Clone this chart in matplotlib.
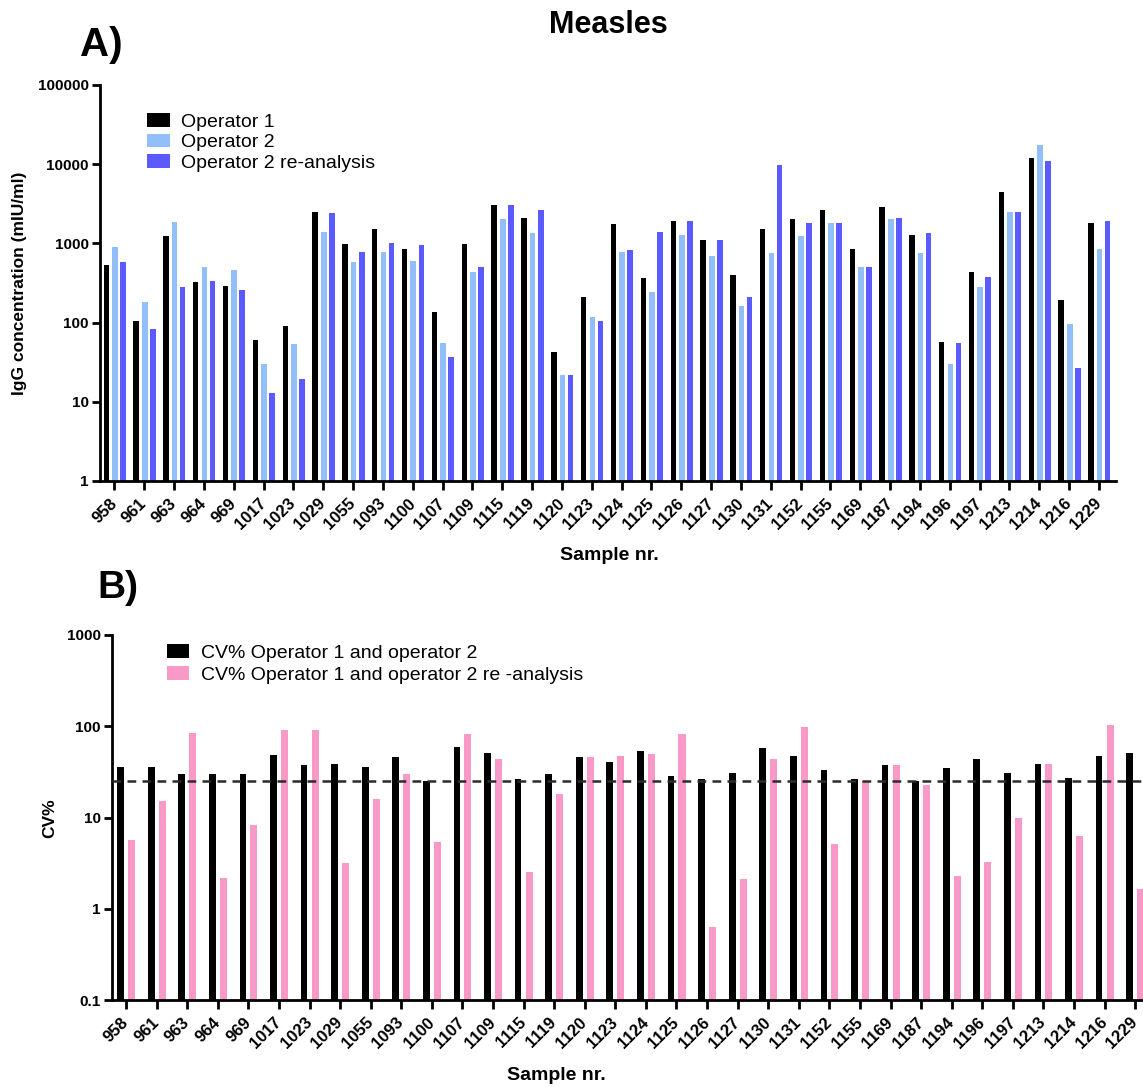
import matplotlib
matplotlib.use("Agg")
import matplotlib.pyplot as plt
import numpy as np

plt.rcParams['font.family'] = ['Liberation Sans', 'DejaVu Sans']

samples = ["958", "961", "963", "964", "969", "1017", "1023", "1029", "1055", "1093",
           "1100", "1107", "1109", "1115", "1119", "1120", "1123", "1124", "1125", "1126",
           "1127", "1130", "1131", "1152", "1155", "1169", "1187", "1194", "1196", "1197",
           "1213", "1214", "1216", "1229"]

# IgG concentration (mIU/ml)
operator1 = [530, 105, 1240, 323, 292, 61, 91, 2510, 990, 1530,
             860, 137, 980, 3030, 2110, 42, 212, 1760, 366, 1920,
             1110, 403, 1530, 2010, 2640, 860, 2880, 1290, 57, 440,
             4500, 12100, 195, 1830]
operator2 = [900, 180, 1850, 500, 460, 30, 54, 1410, 580, 785,
             600, 55, 440, 2030, 1340, 22, 119, 785, 245, 1290,
             690, 164, 750, 1240, 1830, 500, 2010, 750, 30, 279,
             2510, 17300, 95, 860]
operator2_rerun = [580, 84, 281, 335, 258, 12.8, 19.2, 2420, 785, 1020,
                   950, 37, 500, 3030, 2640, 22, 105, 820, 1410, 1920,
                   1110, 212, 9700, 1830, 1830, 500, 2110, 1340, 55, 380,
                   2510, 11100, 27, 1920]

# CV% between operators
cv_op1_op2 = [36, 36, 29.7, 29.7, 29.7, 49, 37.3, 38.9, 36, 45.6,
              25.3, 59.7, 50.9, 26.2, 29.7, 45.6, 40.6, 53.1, 28.5, 26.2,
              30.7, 57.3, 47.2, 33.2, 26.2, 37.3, 25.3, 34.6, 43.7, 30.7,
              38.9, 27.3, 47.2, 50.9]
cv_op1_op2_rerun = [5.6, 15.3, 84, 2.2, 8.2, 92, 92, 3.2, 16, 29.7,
                    5.35, 81.5, 43.7, 2.55, 17.9, 45.6, 47.2, 49.2, 81.5, 0.63,
                    2.1, 43.7, 99, 5.1, 25.3, 37.3, 22.5, 2.27, 3.23, 9.95,
                    38.9, 6.2, 103, 1.66]
cv_limit = 25

W, H = 1143, 1087
fig = plt.figure(figsize=(W / 100, H / 100), dpi=100)


def px_rect(left, top, right, bottom):
    return [left / W, 1 - bottom / H, (right - left) / W, (bottom - top) / H]


def style_axis(ax, yticks, ylabels):
    ax.set_yscale('log')
    for s in ('top', 'right'):
        ax.spines[s].set_visible(False)
    for s in ('left', 'bottom'):
        ax.spines[s].set_linewidth(2)
    ax.set_yticks(yticks)
    ax.set_yticklabels(ylabels, fontsize=11, fontweight='bold')
    ax.yaxis.set_minor_locator(matplotlib.ticker.NullLocator())
    ax.tick_params(axis='y', length=6, width=2, pad=2)
    ax.tick_params(axis='x', length=6.5, width=2, pad=8)
    ax.set_xticks(np.arange(len(samples)))
    ax.set_xticklabels(samples, rotation=45, ha='right', va='center',
                       rotation_mode='anchor', fontsize=12, fontweight='bold')


x = np.arange(len(samples))

# Panel A: IgG concentrations
axA = fig.add_axes(px_rect(100, 85, 1116, 481))
axA.bar(x - 0.27, operator1, width=0.18, color='#000000', label='Operator 1')
axA.bar(x + 0.02, operator2, width=0.19, color='#92BFF9', label='Operator 2')
axA.bar(x + 0.29, operator2_rerun, width=0.19, color='#5A5AFF',
        label='Operator 2 re-analysis')
axA.set_xlim(-0.48, 33.57)
axA.set_ylim(1, 100000)
style_axis(axA, [1, 10, 100, 1000, 10000, 100000],
           ["1", "10", "100", "1000", "10000", "100000"])
axA.legend(loc='upper left', bbox_to_anchor=(147 / W, 1 - 113 / H),
           bbox_transform=fig.transFigure, frameon=False, fontsize=14,
           borderpad=0, borderaxespad=0, handlelength=1.2, handleheight=0.7,
           handletextpad=0.55, labelspacing=0.16)

# Panel B: CV%
axB = fig.add_axes(px_rect(112, 635, 1152, 1000))
axB.bar(x - 0.18, cv_op1_op2, width=0.22, color='#000000',
        label='CV% Operator 1 and operator 2')
axB.bar(x + 0.18, cv_op1_op2_rerun, width=0.23, color='#F899C8',
        label='CV% Operator 1 and operator 2 re -analysis')
axB.axhline(cv_limit, color='#2b2b2b', lw=1.8, ls=(0, (3.5, 2.5)), zorder=5)
axB.set_xlim(-0.46, 33.55)
axB.set_ylim(0.1, 1000)
style_axis(axB, [0.1, 1, 10, 100, 1000], ["0.1", "1", "10", "100", "1000"])
axB.legend(loc='upper left', bbox_to_anchor=(167 / W, 1 - 644 / H),
           bbox_transform=fig.transFigure, frameon=False, fontsize=14,
           borderpad=0, borderaxespad=0, handlelength=1.15, handleheight=0.7,
           handletextpad=0.6, labelspacing=0.22)

# Titles and axis labels
fig.text(608 / W, 1 - 33 / H, "Measles", fontsize=22, fontweight='bold',
         ha='center', va='baseline')
fig.text(80 / W, 1 - 56 / H, "A)", fontsize=29, fontweight='bold',
         ha='left', va='baseline')
fig.text(97 / W, 1 - 598 / H, "B)", fontsize=28, fontweight='bold',
         ha='left', va='baseline')
fig.text(20 / W, 1 - 283 / H, "IgG concentration (mIU/ml)", fontsize=12.5,
         fontweight='bold', rotation=90, ha='center', va='center')
fig.text(50 / W, 1 - 818 / H, "CV%", fontsize=12.5, fontweight='bold',
         rotation=90, ha='center', va='center')
fig.text(609 / W, 1 - 555 / H, "Sample nr.", fontsize=14, fontweight='bold',
         ha='center', va='center')
fig.text(556 / W, 1 - 1075 / H, "Sample nr.", fontsize=14, fontweight='bold',
         ha='center', va='center')

fig.savefig("out.png", dpi=100)
